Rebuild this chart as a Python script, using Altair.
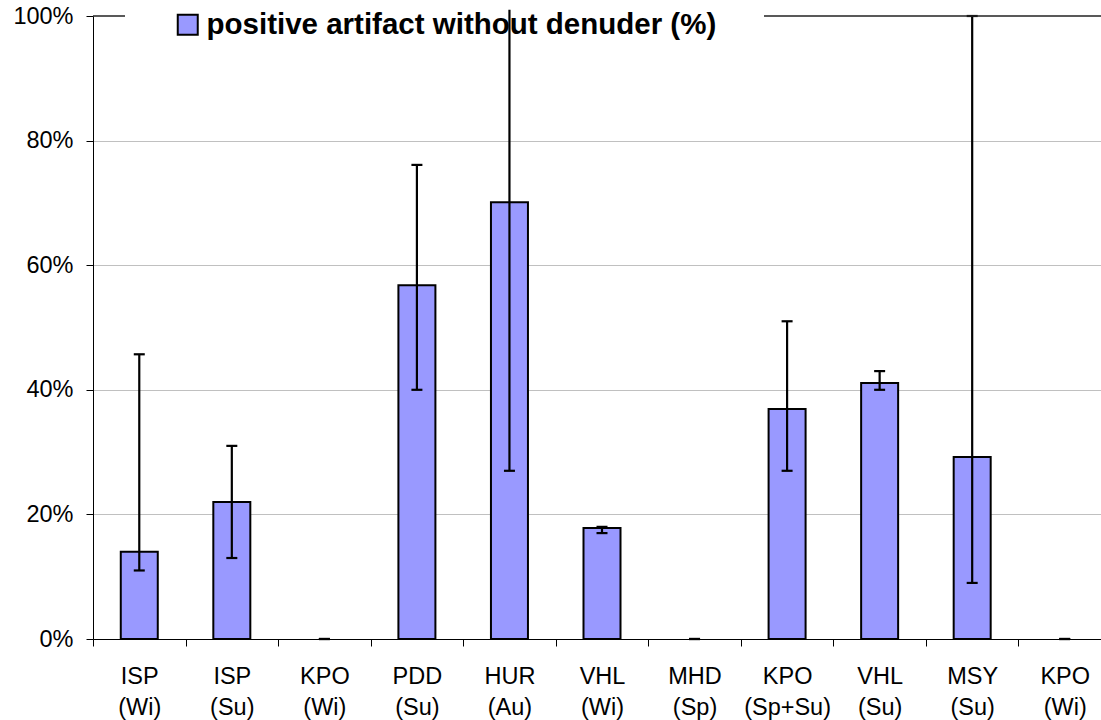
import json
import altair as alt
import pandas as pd

sites = ["ISP", "ISP", "KPO", "PDD", "HUR", "VHL", "MHD", "KPO", "VHL", "MSY", "KPO"]
seasons = ["(Wi)", "(Su)", "(Wi)", "(Su)", "(Au)", "(Wi)", "(Sp)", "(Sp+Su)", "(Su)", "(Su)", "(Wi)"]
values = [0.14, 0.22, 0.0, 0.568, 0.701, 0.178, 0.0, 0.369, 0.411, 0.292, 0.0]
err_lo = [0.11, 0.13, 0.0, 0.40, 0.27, 0.17, 0.0, 0.27, 0.40, 0.09, 0.0]
err_hi = [0.457, 0.31, 0.0, 0.761, 1.01, 0.18, 0.0, 0.51, 0.43, 1.0, 0.0]
y_ticks = [0, 0.2, 0.4, 0.6, 0.8, 1.0]
series_name = "positive artifact without denuder (%)"

df = pd.DataFrame({
    "idx": list(range(len(sites))),
    "value": values,
    "lo": err_lo,
    "hi": err_hi,
    "series": [series_name] * len(sites),
})

label_arr = json.dumps([[a, b] for a, b in zip(sites, seasons)])

FONT = "Liberation Sans"
W, H = 1008, 623

x_enc = alt.X(
    "idx:O",
    scale=alt.Scale(paddingInner=0, paddingOuter=0, range=[0, 1018]),
    axis=alt.Axis(
        title=None,
        labelExpr=f"{label_arr}[datum.value]",
        labelAngle=0,
        labelFont=FONT,
        labelFontSize=23.5,
        labelColor="black",
        labelLineHeight=31,
        labelPadding=18,
        tickBand="extent",
        tickSize=7,
        tickColor="black",
        domainColor="black",
        grid=False,
    ),
)

y_scale = alt.Scale(domain=[0, 1], nice=False, clamp=False)

bars = alt.Chart(df).transform_filter("datum.value > 0").mark_bar(
    size=37, stroke="black", strokeWidth=2
).encode(
    x=x_enc,
    y=alt.Y(
        "value:Q",
        scale=y_scale,
        axis=alt.Axis(
            title=None,
            values=y_ticks,
            format="%",
            labelFont=FONT,
            labelFontSize=23.5,
            labelColor="black",
            labelPadding=13,
            tickSize=7,
            tickColor="black",
            domainColor="black",
            grid=True,
            gridColor=alt.condition(
                "datum.value <= 0 || datum.value >= 1",
                alt.value("transparent"),
                alt.value("#c0c0c0"),
            ),
        ),
    ),
    color=alt.Color(
        "series:N",
        scale=alt.Scale(domain=[series_name], range=["#9999FF"]),
        legend=alt.Legend(
            title=None,
            orient="none",
            legendX=80,
            legendY=-6,
            symbolType="square",
            symbolSize=400,
            symbolStrokeColor="black",
            symbolStrokeWidth=2,
            symbolOpacity=1,
            labelFont=FONT,
            labelFontSize=29.5,
            labelFontWeight="bold",
            labelColor="black",
            labelOffset=4,
            labelLimit=1000,
            padding=0,
        ),
    ),
)

rules = alt.Chart(df).mark_rule(color="black", strokeWidth=2.2).encode(
    x="idx:O",
    y=alt.Y("lo:Q", scale=y_scale),
    y2="hi:Q",
)

cap_lo = alt.Chart(df).mark_tick(color="black", size=11, thickness=2.2, opacity=1).encode(
    x="idx:O", y=alt.Y("lo:Q", scale=y_scale)
)
cap_hi = alt.Chart(df).transform_filter("datum.hi <= 1").mark_tick(
    color="black", size=11, thickness=2.2, opacity=1
).encode(x="idx:O", y=alt.Y("hi:Q", scale=y_scale))

one = pd.DataFrame({"k": [0]})
border_left = alt.Chart(one).mark_rule(color="#222222", strokeWidth=1.5).encode(
    x=alt.value(0), x2=alt.value(32), y=alt.value(0)
)
border_right = alt.Chart(one).mark_rule(color="#222222", strokeWidth=1.5).encode(
    x=alt.value(671), x2=alt.value(1018), y=alt.value(0)
)

chart = alt.layer(bars, rules, cap_lo, cap_hi, border_left, border_right).properties(
    width=W,
    height=H,
    autosize=alt.AutoSizeParams(type="none"),
    padding={"left": 93, "top": 16, "right": 0, "bottom": 81},
    background="white",
).configure_view(stroke=None)

chart.save("out.html", embed_options={"renderer": "svg", "actions": False})
